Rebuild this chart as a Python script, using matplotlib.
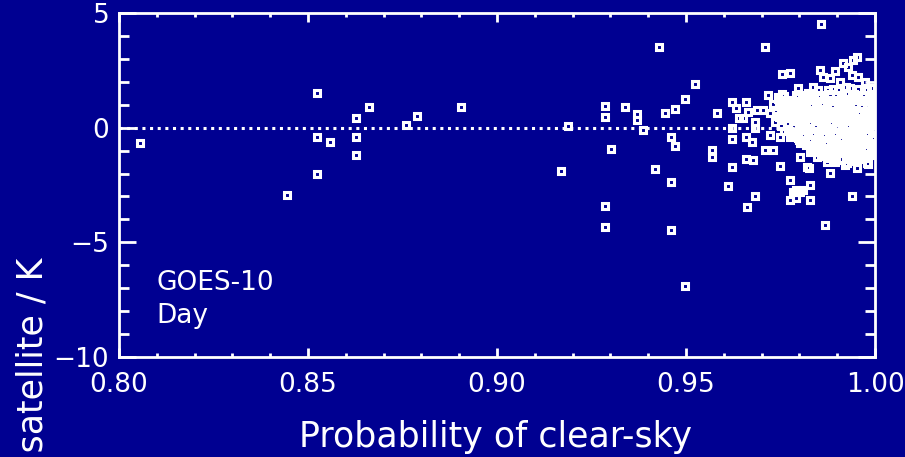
import matplotlib
matplotlib.use("Agg")
import matplotlib.pyplot as plt
from matplotlib.ticker import MultipleLocator

# Axis ticks and labels
x_ticks = [0.80, 0.85, 0.90, 0.95, 1.00]
x_tick_labels = ["0.80", "0.85", "0.90", "0.95", "1.00"]
y_ticks = [-10, -5, 0, 5]
y_tick_labels = ["\u221210", "\u22125", "0", "5"]

# Isolated matchups
sparse_x = [
    0.8056, 0.8444, 0.8523, 0.8523, 0.8523, 0.8558, 0.8627, 0.8627, 0.8627, 0.8661,
    0.8759, 0.8788, 0.8904, 0.9169, 0.9189, 0.9285, 0.9285, 0.9285, 0.9285, 0.9302,
    0.9338, 0.9370, 0.9370, 0.9387, 0.9417, 0.9429, 0.9444, 0.9459, 0.9460, 0.9460,
    0.9471, 0.9471, 0.9497, 0.9497, 0.9524, 0.9570, 0.9570, 0.9581, 0.9612, 0.9621,
    0.9621, 0.9621, 0.9621, 0.9632, 0.9641, 0.9659, 0.9659, 0.9659, 0.9660, 0.9665,
    0.9674, 0.9678, 0.9683, 0.9683, 0.9683, 0.9651, 0.9687, 0.9704, 0.9708, 0.9709,
    0.9718, 0.9731, 0.9744, 0.9749, 0.9754, 0.9775, 0.9775, 0.9775, 0.9783, 0.9792,
    0.9802, 0.9810, 0.9792, 0.9828, 0.9828, 0.9819, 0.9824, 0.9802, 0.9828, 0.9854,
    0.9846, 0.9872, 0.9881, 0.9898, 0.9921, 0.9925, 0.9947, 0.9951, 0.9982, 0.9938,
    0.9868, 0.9858, 0.9854, 0.9863, 0.9881, 0.9894, 0.9907, 0.9916, 0.9929, 0.9938,
    0.9943, 0.9951, 0.9955, 0.9973, 0.9819, 0.9850, 0.9876, 0.9903, 0.9934, 0.9978,
    0.9722, 0.9749, 0.9775, 0.9802,
]
sparse_y = [
    -0.67, -2.94, 1.53, -0.39, -2.00, -0.64, 0.41, -0.39, -1.20, 0.92,
    0.12, 0.51, 0.92, -1.89, 0.07, 0.95, 0.48, -3.43, -4.32, -0.94,
    0.89, 0.60, 0.34, -0.10, -1.80, 3.52, 0.63, -0.39, -2.38, -4.48,
    0.80, -0.80, 1.25, -6.91, 1.91, -0.97, -1.29, 0.63, -2.53, 1.13,
    0.00, -0.51, -1.73, 0.85, 0.41, 1.13, -0.39, -1.37, -3.45, 0.70,
    -0.61, -1.41, -2.98, 0.26, -0.03, 0.42, 0.77, 0.77, 3.52, -0.97,
    1.43, -0.97, 1.35, -1.67, 2.34, 2.37, -2.28, -3.15, -2.79, -2.72,
    -2.79, -2.72, -3.08, -3.15, -2.50, -1.70, -1.74, -1.26, -1.05, -0.83,
    -1.26, -1.48, -1.99, -1.41, -1.63, -1.55, -1.41, -1.77, -1.58, -2.98,
    -4.24, 4.52, 2.52, 2.22, 2.15, 2.49, 2.01, 2.81, 2.66, 2.30,
    2.95, 3.10, 2.22, 2.01, 1.43, 1.64, 1.64, 1.64, 1.72, 1.64,
    -0.32, -0.39, -0.39, -0.68,
]

# Dense group of matchups at high clear-sky probability
dense_x = [
    0.9796, 0.9836, 0.9889, 0.9922, 0.9956, 0.9988,
    0.9755, 0.9790, 0.9822, 0.9851, 0.9880, 0.9912, 0.9945, 0.9972,
    0.9760, 0.9795, 0.9825, 0.9853, 0.9882, 0.9910, 0.9940, 0.9968, 0.9995,
    0.9742, 0.9776, 0.9808, 0.9838, 0.9866, 0.9893, 0.9927, 0.9958, 0.9990,
    0.9752, 0.9783, 0.9813, 0.9843, 0.9872, 0.9901, 0.9933, 0.9964, 0.9996,
    0.9730, 0.9768, 0.9797, 0.9829, 0.9857, 0.9885, 0.9918, 0.9949, 0.9981,
    0.9747, 0.9776, 0.9803, 0.9832, 0.9861, 0.9889, 0.9920, 0.9949, 0.9978,
    0.9761, 0.9789, 0.9815, 0.9846, 0.9874, 0.9903, 0.9935, 0.9962, 0.9993,
    0.9737, 0.9768, 0.9797, 0.9825, 0.9854, 0.9883, 0.9912, 0.9941, 0.9970, 0.9997,
    0.9722, 0.9751, 0.9783, 0.9810, 0.9839, 0.9868, 0.9897, 0.9926, 0.9955, 0.9986,
    0.9760, 0.9790, 0.9819, 0.9847, 0.9875, 0.9903, 0.9932, 0.9961, 0.9988,
    0.9745, 0.9776, 0.9804, 0.9833, 0.9861, 0.9889, 0.9917, 0.9946, 0.9975, 0.9998,
    0.9752, 0.9783, 0.9812, 0.9840, 0.9868, 0.9896, 0.9925, 0.9953, 0.9982,
    0.9735, 0.9768, 0.9798, 0.9826, 0.9853, 0.9881, 0.9910, 0.9939, 0.9968, 0.9991,
    0.9770, 0.9801, 0.9829, 0.9857, 0.9886, 0.9914, 0.9944, 0.9972, 0.9997,
    0.9752, 0.9786, 0.9815, 0.9843, 0.9871, 0.9900, 0.9929, 0.9958, 0.9984,
    0.9769, 0.9800, 0.9829, 0.9857, 0.9885, 0.9914, 0.9943, 0.9971, 0.9996,
    0.9760, 0.9793, 0.9821, 0.9849, 0.9877, 0.9906, 0.9933, 0.9963, 0.9994,
    0.9775, 0.9806, 0.9835, 0.9863, 0.9891, 0.9920, 0.9948, 0.9978,
    0.9784, 0.9812, 0.9838, 0.9866, 0.9894, 0.9922, 0.9951, 0.9979,
    0.9797, 0.9826, 0.9852, 0.9880, 0.9908, 0.9936, 0.9965, 0.9993,
    0.9800, 0.9829, 0.9856, 0.9884, 0.9913, 0.9941, 0.9970, 0.9996,
    0.9814, 0.9842, 0.9870, 0.9898, 0.9927, 0.9955, 0.9983,
    0.9818, 0.9846, 0.9873, 0.9902, 0.9930, 0.9959, 0.9988,
    0.9832, 0.9860, 0.9888, 0.9916, 0.9944, 0.9973, 0.9997,
    0.9835, 0.9864, 0.9892, 0.9920, 0.9948, 0.9977,
    0.9849, 0.9877, 0.9906, 0.9934, 0.9962, 0.9988,
    0.9858, 0.9887, 0.9914, 0.9942, 0.9971, 0.9995,
    0.9869, 0.9898, 0.9926, 0.9954, 0.9982,
    0.9879, 0.9907, 0.9936, 0.9964,
    0.9893, 0.9950, 0.9978,
]
dense_y = [
    1.72, 1.78, 1.70, 1.76, 1.68, 1.74,
    1.47, 1.42, 1.50, 1.44, 1.48, 1.41, 1.46, 1.43,
    1.36, 1.32, 1.38, 1.33, 1.37, 1.31, 1.35, 1.39, 1.34,
    1.25, 1.21, 1.28, 1.23, 1.26, 1.20, 1.27, 1.22, 1.24,
    1.16, 1.12, 1.18, 1.13, 1.17, 1.11, 1.15, 1.19, 1.14,
    1.05, 1.02, 1.08, 1.03, 1.06, 1.01, 1.07, 1.04, 1.00,
    0.96, 0.92, 0.98, 0.93, 0.97, 0.91, 0.95, 0.99, 0.94,
    0.86, 0.82, 0.88, 0.84, 0.87, 0.81, 0.85, 0.89, 0.83,
    0.76, 0.72, 0.78, 0.73, 0.77, 0.71, 0.75, 0.79, 0.74, 0.70,
    0.66, 0.62, 0.68, 0.63, 0.67, 0.61, 0.65, 0.69, 0.64, 0.60,
    0.56, 0.52, 0.58, 0.53, 0.57, 0.51, 0.55, 0.59, 0.54,
    0.45, 0.42, 0.48, 0.43, 0.47, 0.41, 0.46, 0.44, 0.49, 0.40,
    0.36, 0.32, 0.38, 0.33, 0.37, 0.31, 0.35, 0.39, 0.34,
    0.26, 0.22, 0.28, 0.23, 0.27, 0.21, 0.25, 0.29, 0.24, 0.20,
    0.16, 0.12, 0.18, 0.13, 0.17, 0.11, 0.15, 0.19, 0.14,
    0.06, 0.02, 0.08, 0.03, 0.07, 0.01, 0.05, 0.09, 0.04,
    -0.04, -0.08, -0.02, -0.07, -0.03, -0.09, -0.05, -0.01, -0.06,
    -0.14, -0.18, -0.12, -0.17, -0.13, -0.19, -0.15, -0.11, -0.16,
    -0.24, -0.28, -0.22, -0.27, -0.23, -0.29, -0.25, -0.21,
    -0.34, -0.38, -0.32, -0.37, -0.33, -0.39, -0.35, -0.31,
    -0.44, -0.48, -0.42, -0.47, -0.43, -0.49, -0.45, -0.41,
    -0.54, -0.58, -0.52, -0.57, -0.53, -0.59, -0.55, -0.51,
    -0.64, -0.68, -0.62, -0.67, -0.63, -0.69, -0.65,
    -0.74, -0.78, -0.72, -0.77, -0.73, -0.79, -0.75,
    -0.84, -0.88, -0.82, -0.87, -0.83, -0.89, -0.85,
    -0.94, -0.98, -0.92, -0.97, -0.93, -0.99,
    -1.04, -1.08, -1.02, -1.07, -1.03, -1.09,
    -1.14, -1.18, -1.12, -1.17, -1.13, -1.19,
    -1.24, -1.28, -1.22, -1.27, -1.23,
    -1.34, -1.38, -1.32, -1.37,
    -1.50, -1.46, -1.52,
]

bg = "#000091"
fg = "white"

fig = plt.figure(figsize=(9.05, 4.57), dpi=100, facecolor=bg)
ax = fig.add_axes([0.1315, 0.2188, 0.8354, 0.7527])
ax.set_facecolor(bg)

ax.set_xlim(0.80, 1.00)
ax.set_ylim(-10, 5)

# Zero reference line (dotted)
ax.axhline(0, color=fg, lw=2.2, linestyle=(0, (1, 1.5)), dash_capstyle="butt", zorder=1)

marker_style = dict(linestyle="none", marker="s", markersize=3.9,
                    markerfacecolor="none", markeredgecolor=fg,
                    markeredgewidth=2.2, zorder=3)
ax.plot(sparse_x, sparse_y, **marker_style)
ax.plot(dense_x, dense_y, **marker_style)

ax.set_xticks(x_ticks)
ax.set_xticklabels(x_tick_labels)
ax.set_yticks(y_ticks)
ax.set_yticklabels(y_tick_labels)
ax.xaxis.set_minor_locator(MultipleLocator(0.01))
ax.yaxis.set_minor_locator(MultipleLocator(1))

ax.tick_params(which="both", direction="in", top=True, right=True,
               colors=fg, width=2)
ax.tick_params(axis="x", which="major", length=6.5, pad=11, labelsize=19)
ax.tick_params(axis="x", which="minor", length=3)
ax.tick_params(axis="y", which="major", length=12, pad=7, labelsize=19)
ax.tick_params(axis="y", which="minor", length=7)

for sp in ax.spines.values():
    sp.set_color(fg)
    sp.set_linewidth(2)

ax.text(0.050, 0.195, "GOES-10", transform=ax.transAxes, color=fg,
        fontsize=19, ha="left", va="baseline")
ax.text(0.050, 0.099, "Day", transform=ax.transAxes, color=fg,
        fontsize=19, ha="left", va="baseline")

fig.text(0.548, 0.0219, "Probability of clear-sky", color=fg, fontsize=25,
         ha="center", va="baseline")
fig.text(0.036, 0.4354, "In situ \u2212 satellite / K", color=fg, fontsize=25,
         rotation=90, ha="center", va="top")

fig.savefig("out.png", dpi=100, facecolor=bg)
